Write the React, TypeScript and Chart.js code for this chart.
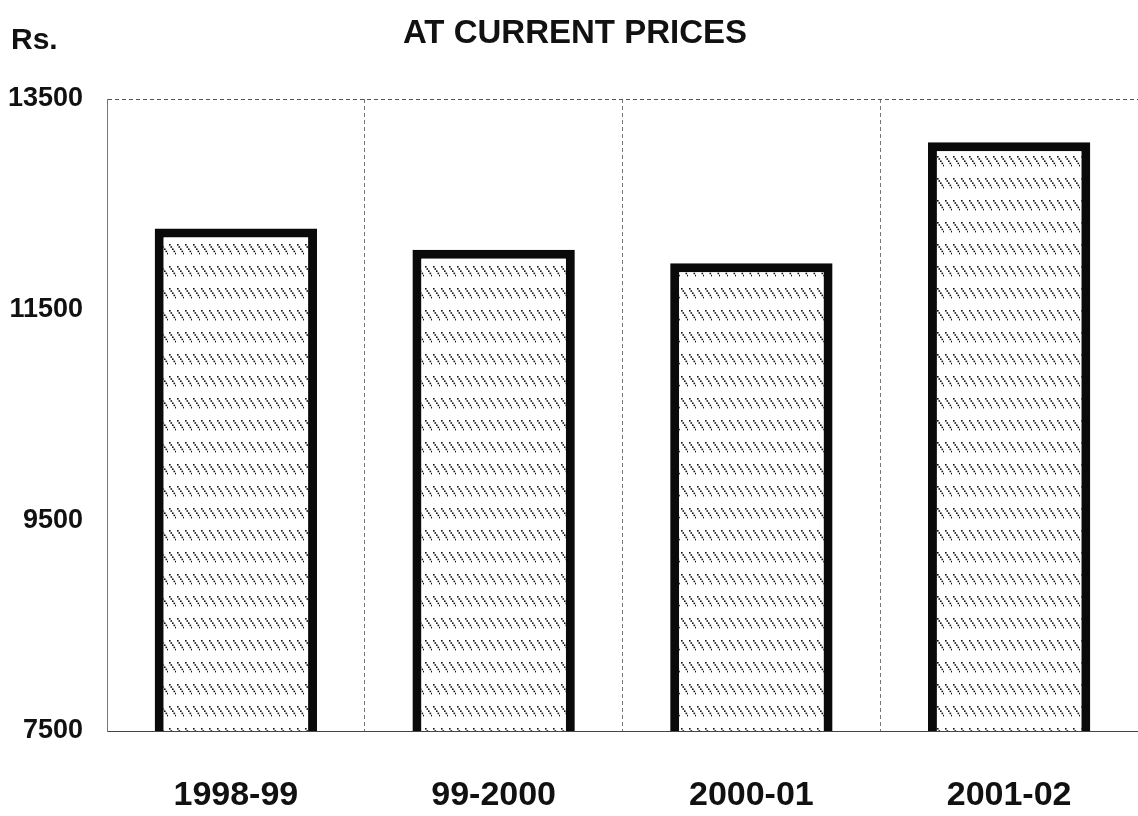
import React, { useEffect, useRef } from "react";
import { Chart, registerables } from "chart.js";

Chart.register(...registerables);

const categories = ["1998-99", "99-2000", "2000-01", "2001-02"];
const values = [12270, 12070, 11940, 13090];
const yTicks = [7500, 9500, 11500, 13500];
const titleText = "AT CURRENT PRICES";
const unitText = "Rs.";

function makePattern(): CanvasPattern | string {
  const c = document.createElement("canvas");
  c.width = 8;
  c.height = 22;
  const ctx = c.getContext("2d");
  if (!ctx) return "#ddd";
  ctx.fillStyle = "#ffffff";
  ctx.fillRect(0, 0, 8, 22);
  ctx.fillStyle = "#111111";
  for (let i = 0; i < 5; i++) {
    ctx.fillRect(1 + i * 1.5, 2 + i * 2.2, 1.6, 1.6);
  }
  const p = ctx.createPattern(c, "repeat");
  return p || "#ddd";
}

const textPlugin = {
  id: "texts",
  afterDraw(chart: any) {
    const ctx = chart.ctx;
    ctx.save();
    ctx.fillStyle = "#111";
    ctx.textBaseline = "alphabetic";
    ctx.font = "bold 33px 'Liberation Sans', Arial, sans-serif";
    ctx.textAlign = "center";
    ctx.fillText(titleText, 575, 43);
    ctx.font = "bold 30px 'Liberation Sans', Arial, sans-serif";
    ctx.textAlign = "left";
    ctx.fillText(unitText, 11, 49);
    ctx.restore();
  },
};

export default function App() {
  const ref = useRef<HTMLCanvasElement | null>(null);
  useEffect(() => {
    document.body.style.margin = "0";
    if (!ref.current) return;
    const pattern = makePattern();
    const chart = new Chart(ref.current, {
      type: "bar",
      data: {
        labels: categories,
        datasets: [
          {
            data: values,
            backgroundColor: pattern as any,
            borderColor: "#0a0a0a",
            borderWidth: 9,
            borderSkipped: false,
            barPercentage: 0.63,
            categoryPercentage: 1,
          },
        ],
      },
      options: {
        animation: false,
        responsive: true,
        maintainAspectRatio: false,
        layout: { padding: { top: 99, right: 0, left: 0, bottom: 0 } },
        plugins: {
          legend: { display: false },
          title: { display: false },
          tooltip: { enabled: false },
        },
        scales: {
          x: {
            offset: true,
            grid: {
              display: true,
              offset: true,
              color: "#777",
              lineWidth: 1,
              drawTicks: false,
            },
            border: { display: true, color: "#444", width: 1, dash: [4, 3] },
            ticks: {
              color: "#111",
              font: { family: "'Liberation Sans', Arial, sans-serif", size: 34, weight: "bold" },
              padding: 44,
            },
            afterFit(scale: any) {
              scale.height = 85;
            },
          },
          y: {
            min: 7500,
            max: 13500,
            afterBuildTicks(scale: any) {
              scale.ticks = yTicks.map((v) => ({ value: v }));
            },
            grid: {
              display: true,
              drawTicks: false,
              color: (ctx: any) => (ctx.tick && ctx.tick.value === 13500 ? "#555" : "rgba(0,0,0,0)"),
              lineWidth: 1,
            },
            border: { display: true, color: "#777", width: 1, dash: [4, 3] },
            ticks: {
              color: "#111",
              font: { family: "'Liberation Sans', Arial, sans-serif", size: 27, weight: "bold" },
              padding: 24,
              callback: (v: any) => String(v),
            },
            afterFit(scale: any) {
              scale.width = 107;
            },
          },
        },
      },
      plugins: [textPlugin],
    });
    return () => chart.destroy();
  }, []);
  return (
    <div style={{ position: "absolute", left: 0, top: 0, width: 1138, height: 816, background: "#fff" }}>
      <canvas ref={ref} />
    </div>
  );
}
